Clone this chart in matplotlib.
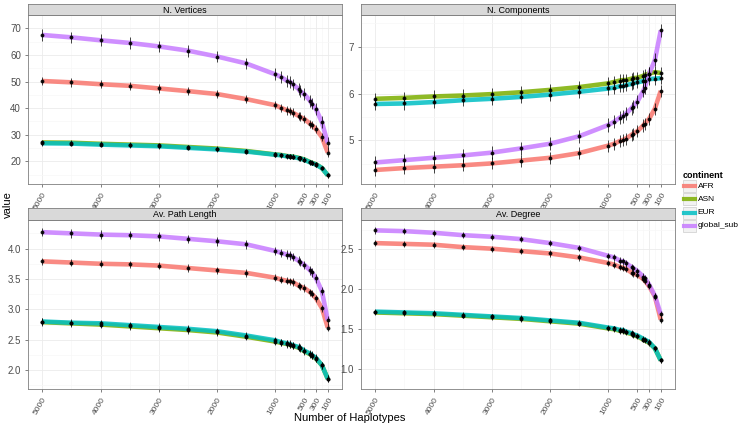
import matplotlib
matplotlib.use('Agg')
import matplotlib.pyplot as plt
from matplotlib.patches import Rectangle
from matplotlib.lines import Line2D

plt.rcParams['font.family'] = ['Liberation Sans', 'DejaVu Sans']

# number of haplotypes sampled
haplotypes = [5000, 4500, 4000, 3500, 3000, 2500, 2000, 1500, 1000, 900, 800, 750,
              700, 600, 580, 500, 400, 375, 300, 200, 100]
continents = ['AFR', 'ASN', 'EUR', 'global_sub']
colors = {'AFR': '#F8766D', 'ASN': '#7CAE00', 'EUR': '#00BFC4', 'global_sub': '#C77CFF'}

# N. Vertices
vert_afr = [50.2, 49.7, 49.0, 48.4, 47.4, 46.4, 45.3, 43.4, 41.1, 40.1, 39.2, 38.9,
            38.3, 37.1, 36.8, 35.9, 34.1, 33.7, 32.1, 29.1, 23.3]
vert_asn = [27.1, 27.0, 26.6, 26.3, 26.0, 25.4, 24.8, 23.9, 22.6, 22.4, 22.0, 21.9,
            21.8, 21.3, 21.2, 20.7, 19.7, 19.5, 18.9, 17.5, 14.8]
vert_eur = [26.8, 26.7, 26.3, 26.0, 25.7, 25.1, 24.5, 23.7, 22.5, 22.3, 21.9, 21.8,
            21.7, 21.2, 21.1, 20.6, 19.6, 19.4, 18.8, 17.5, 14.8]
vert_glob = [67.5, 66.6, 65.5, 64.5, 63.2, 61.6, 59.4, 56.8, 52.7, 51.7, 50.3, 49.9,
             48.9, 47.2, 46.5, 45.2, 42.7, 41.7, 39.6, 34.7, 26.9]

# N. Components
comp_afr = [4.37, 4.41, 4.44, 4.47, 4.51, 4.57, 4.63, 4.73, 4.89, 4.93, 4.99, 5.01,
            5.04, 5.12, 5.14, 5.20, 5.32, 5.36, 5.46, 5.68, 6.06]
comp_asn = [5.89, 5.91, 5.94, 5.96, 5.99, 6.03, 6.08, 6.14, 6.22, 6.25, 6.28, 6.29,
            6.29, 6.32, 6.33, 6.34, 6.38, 6.40, 6.43, 6.46, 6.44]
comp_eur = [5.78, 5.79, 5.82, 5.86, 5.89, 5.93, 5.98, 6.04, 6.11, 6.13, 6.16, 6.16,
            6.18, 6.21, 6.22, 6.24, 6.27, 6.28, 6.31, 6.32, 6.33]
comp_glob = [4.53, 4.58, 4.63, 4.68, 4.74, 4.83, 4.93, 5.09, 5.33, 5.40, 5.49, 5.52,
             5.57, 5.69, 5.72, 5.83, 6.06, 6.13, 6.42, 6.72, 7.35]

# Av. Path Length
path_afr = [3.79, 3.77, 3.75, 3.74, 3.72, 3.68, 3.64, 3.60, 3.52, 3.49, 3.47, 3.46,
            3.45, 3.39, 3.38, 3.35, 3.28, 3.26, 3.18, 3.02, 2.70]
path_asn = [2.79, 2.77, 2.75, 2.72, 2.69, 2.66, 2.62, 2.55, 2.47, 2.45, 2.43, 2.42,
            2.40, 2.37, 2.36, 2.31, 2.26, 2.24, 2.19, 2.08, 1.86]
path_eur = [2.80, 2.78, 2.77, 2.74, 2.71, 2.68, 2.64, 2.57, 2.49, 2.46, 2.44, 2.43,
            2.41, 2.38, 2.37, 2.32, 2.27, 2.25, 2.20, 2.08, 1.86]
path_glob = [4.27, 4.25, 4.23, 4.22, 4.20, 4.16, 4.12, 4.07, 3.96, 3.93, 3.90, 3.89,
             3.86, 3.80, 3.78, 3.73, 3.64, 3.61, 3.51, 3.30, 2.82]

# Av. Degree
deg_afr = [2.58, 2.57, 2.56, 2.53, 2.51, 2.48, 2.45, 2.40, 2.33, 2.31, 2.28, 2.27,
           2.26, 2.21, 2.20, 2.18, 2.13, 2.11, 2.04, 1.91, 1.62]
deg_asn = [1.71, 1.70, 1.69, 1.67, 1.65, 1.63, 1.60, 1.57, 1.51, 1.50, 1.48, 1.48,
           1.46, 1.44, 1.43, 1.41, 1.37, 1.36, 1.33, 1.26, 1.11]
deg_eur = [1.72, 1.71, 1.70, 1.68, 1.66, 1.64, 1.61, 1.58, 1.52, 1.51, 1.49, 1.49,
           1.47, 1.45, 1.44, 1.42, 1.38, 1.37, 1.34, 1.26, 1.11]
deg_glob = [2.74, 2.73, 2.71, 2.68, 2.66, 2.63, 2.58, 2.52, 2.42, 2.40, 2.36, 2.35,
            2.33, 2.28, 2.27, 2.23, 2.16, 2.14, 2.06, 1.92, 1.69]

# half-length of the error bars per panel and continent (AFR, ASN, EUR, global_sub)
err_vert = [1.6, 0.9, 0.9, 2.2]
err_comp = [0.13, 0.13, 0.13, 0.14]
err_path = [0.06, 0.06, 0.06, 0.07]
err_deg = [0.04, 0.035, 0.035, 0.04]

panels = [
    ('N. Vertices', [vert_afr, vert_asn, vert_eur, vert_glob], err_vert,
     (11.5, 72.3), [20, 30, 40, 50, 60, 70], ['20', '30', '40', '50', '60', '70']),
    ('N. Components', [comp_afr, comp_asn, comp_eur, comp_glob], err_comp,
     (4.07, 7.68), [5, 6, 7], ['5', '6', '7']),
    ('Av. Path Length', [path_afr, path_asn, path_eur, path_glob], err_path,
     (1.69, 4.47), [2.0, 2.5, 3.0, 3.5, 4.0], ['2.0', '2.5', '3.0', '3.5', '4.0']),
    ('Av. Degree', [deg_afr, deg_asn, deg_eur, deg_glob], err_deg,
     (0.99, 2.87), [1.0, 1.5, 2.0, 2.5], ['1.0', '1.5', '2.0', '2.5']),
]

xticks = [5000, 4000, 3000, 2000, 1000, 500, 300, 100]
xminor = [4500, 3500, 2500, 1500, 750, 400, 200]

W, H = 739, 426
fig = plt.figure(figsize=(W / 100, H / 100), dpi=100)


def box(x0, y0, x1, y1):
    # pixel box (top-left origin) -> figure fraction rect
    return [x0 / W, 1 - y1 / H, (x1 - x0) / W, (y1 - y0) / H]


boxes = [(28, 15, 342, 184), (361, 15, 675, 184), (28, 220, 342, 389), (361, 220, 675, 389)]
strips = [(28, 4, 342, 15), (361, 4, 675, 15), (28, 208, 342, 220), (361, 208, 675, 220)]

for (title, series, errs, ylim, yt, ytl), b, s in zip(panels, boxes, strips):
    ax = fig.add_axes(box(*b))
    ax.set_xlim(5245, -145)
    ax.set_ylim(*ylim)
    ax.set_xticks(xticks)
    ax.set_xticklabels([str(v) for v in xticks], rotation=60, ha='right',
                       rotation_mode='anchor', fontsize=6, color='#4D4D4D')
    ax.set_xticks(xminor, minor=True)
    ax.set_yticks(yt)
    ax.set_yticklabels(ytl, fontsize=7, color='#4D4D4D')
    # minor y grid between majors
    step = yt[1] - yt[0]
    ax.set_yticks([v + step / 2 for v in [yt[0] - step] + yt], minor=True)
    ax.grid(which='major', color='#EBEBEB', lw=0.6)
    ax.grid(which='minor', color='#F7F7F7', lw=0.5)
    ax.set_axisbelow(True)
    ax.tick_params(which='major', length=2.5, width=0.5, color='#4D4D4D', pad=2.5)
    ax.tick_params(which='minor', length=0)
    for sp in ax.spines.values():
        sp.set_color('#7F7F7F')
        sp.set_linewidth(0.6)

    for c, vals in zip(continents, series):
        ax.plot(haplotypes, vals, color=colors[c], lw=3.3, alpha=0.85,
                solid_capstyle='butt', zorder=2)
    for c, vals, e in zip(continents, series, errs):
        ax.errorbar(haplotypes, vals, yerr=e, fmt='o', ms=1.8, color='black',
                    ecolor='black', elinewidth=0.6, capsize=0, alpha=0.85, zorder=3)

    sax = fig.add_axes(box(*s))
    sax.set_facecolor('#D9D9D9')
    sax.set_xticks([])
    sax.set_yticks([])
    for sp in sax.spines.values():
        sp.set_color('#7F7F7F')
        sp.set_linewidth(0.6)
    sax.text(0.5, 0.45, title, ha='center', va='center', fontsize=6.5, transform=sax.transAxes)

fig.text(350 / W, 1 - 418 / H, 'Number of Haplotypes', ha='center', va='center', fontsize=8)
fig.text(8 / W, 1 - 205 / H, 'value', ha='center', va='center', rotation=90, fontsize=8)

# legend
fig.text(683 / W, 1 - 176 / H, 'continent', fontsize=6.5, fontweight='bold', va='center')
for i, c in enumerate(continents):
    yc = 186 + i * 13.3
    fig.add_artist(Rectangle((683 / W, 1 - (yc + 6) / H), 13 / W, 12 / H,
                             transform=fig.transFigure, facecolor='#F2F2F2',
                             edgecolor='#CCCCCC', lw=0.5))
    fig.add_artist(Line2D([684 / W, 695 / W], [1 - yc / H, 1 - yc / H],
                          transform=fig.transFigure, color=colors[c], lw=3, alpha=0.85))
    fig.text(697.5 / W, 1 - yc / H, c, fontsize=6, va='center')

fig.savefig('out.png', dpi=100)
